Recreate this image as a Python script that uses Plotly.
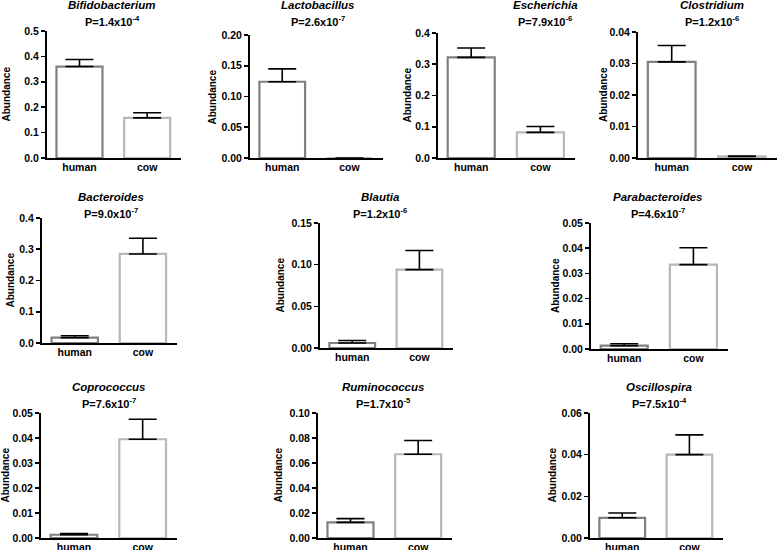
import plotly.graph_objects as go

# ---------------- data ----------------
genera = ["Bifidobacterium", "Lactobacillus", "Escherichia", "Clostridium",
          "Bacteroides", "Blautia", "Parabacteroides",
          "Coprococcus", "Ruminococcus", "Oscillospira"]
p_mantissa = ["1.4", "2.6", "7.9", "1.2", "9.0", "1.2", "4.6", "7.6", "1.7", "7.5"]
p_exponent = ["-4", "-7", "-6", "-6", "-7", "-6", "-7", "-7", "-5", "-4"]
groups = ["human", "cow"]
human_mean = [0.360, 0.124, 0.322, 0.0305, 0.017, 0.006, 0.0013, 0.0013, 0.0125, 0.0097]
human_sem = [0.028, 0.021, 0.030, 0.0052, 0.006, 0.003, 0.0008, 0.0005, 0.003, 0.0023]
cow_mean = [0.158, 0.0, 0.082, 0.0005, 0.285, 0.094, 0.0335, 0.0395, 0.067, 0.040]
cow_sem = [0.020, 0.0, 0.019, 0.0001, 0.050, 0.023, 0.0067, 0.0080, 0.011, 0.0095]
y_max = [0.5, 0.20, 0.4, 0.04, 0.4, 0.15, 0.05, 0.05, 0.10, 0.06]
y_step = [0.1, 0.05, 0.1, 0.01, 0.1, 0.05, 0.01, 0.01, 0.02, 0.02]
y_fmt = [".1f", ".2f", ".1f", ".2f", ".1f", ".2f", ".2f", ".2f", ".2f", ".2f"]

# ---------------- layout (pixels) ----------------
W, H = 778, 550
# x_left, x_right, y_top, y_bottom of each plot area
boxes = [(47, 181, 31, 158), (250, 383, 35, 158), (438, 575, 33, 158), (638, 777, 32, 158),
         (42, 177, 218, 343), (320, 453, 223, 348), (591, 728, 223, 349),
         (41, 177, 413, 538), (318, 452, 413, 538), (590, 723, 413, 538)]
title_x = [112, 318, 545, 712, 111, 380, 658, 109, 383, 659]
title_y = [5, 5, 5, 5, 197, 197, 197, 387, 387, 387]
ylab_x = [6, 212, 407, 603, 10, 280, 555, 5, 278, 552]

human_col = "#808080"
cow_col = "#b8b8b8"
FONT = "Liberation Sans, Arial, Helvetica, sans-serif"

fig = go.Figure()
annotations = []
for i in range(len(genera)):
    n = i + 1
    xa = "x" if n == 1 else f"x{n}"
    ya = "y" if n == 1 else f"y{n}"
    x0, x1, yt, yb = boxes[i]
    fig.add_trace(go.Bar(
        x=[0, 1], y=[human_mean[i], cow_mean[i]],
        width=0.68,
        marker=dict(color="white", line=dict(color=[human_col, cow_col], width=2.2)),
        error_y=dict(type="data", symmetric=False,
                     array=[human_sem[i], cow_sem[i]], arrayminus=[0, 0],
                     color="black", thickness=1.6, width=14),
        xaxis=xa, yaxis=ya, showlegend=False, hoverinfo="skip",
    ))
    nt = int(round(y_max[i] / y_step[i]))
    tv = [round(k * y_step[i], 6) for k in range(nt + 1)]
    fig.layout[f"xaxis{'' if n == 1 else n}"] = dict(
        domain=[x0 / W, x1 / W], anchor=ya, range=[-0.48, 1.5],
        tickvals=[0, 1], ticktext=groups, ticks="", showgrid=False, zeroline=False,
        showline=True, linecolor="black", linewidth=2, ticklabelstandoff=-2,
        tickfont=dict(family=FONT, size=10.5, color="black", weight="bold"),
        fixedrange=True,
    )
    fig.layout[f"yaxis{'' if n == 1 else n}"] = dict(
        domain=[1 - yb / H, 1 - yt / H], anchor=xa, range=[0, y_max[i]],
        tickvals=tv, tickformat=y_fmt[i], ticks="outside", ticklen=4, tickwidth=1.6,
        tickcolor="black", showgrid=False, zeroline=False,
        showline=True, linecolor="black", linewidth=2,
        tickfont=dict(family=FONT, size=10.5, color="black", weight="bold"),
        fixedrange=True,
    )
    annotations.append(dict(
        text=f"<b><i>{genera[i]}</i></b>", xref="paper", yref="paper",
        x=title_x[i] / W, y=1 - title_y[i] / H, xanchor="center", yanchor="middle",
        showarrow=False, font=dict(family=FONT, size=11.5, color="black")))
    annotations.append(dict(
        text=f"<b>P={p_mantissa[i]}x10<sup>{p_exponent[i]}</sup></b>", xref="paper", yref="paper",
        x=title_x[i] / W, y=1 - (title_y[i] + 16) / H, xanchor="center", yanchor="middle",
        showarrow=False, font=dict(family=FONT, size=11, color="black")))
    annotations.append(dict(
        text="<b>Abundance</b>", xref="paper", yref="paper", textangle=-90,
        x=ylab_x[i] / W, y=1 - ((yt + yb) / 2) / H, xanchor="center", yanchor="middle",
        showarrow=False, font=dict(family=FONT, size=10, color="black")))

fig.update_layout(
    width=W, height=H, template="none",
    margin=dict(l=0, r=0, t=0, b=0),
    paper_bgcolor="white", plot_bgcolor="white",
    annotations=annotations,
)
fig.write_html("out.html",
               config={"displayModeBar": False, "staticPlot": True},
               post_script="document.body.style.margin='0';document.body.style.overflow='hidden';")
